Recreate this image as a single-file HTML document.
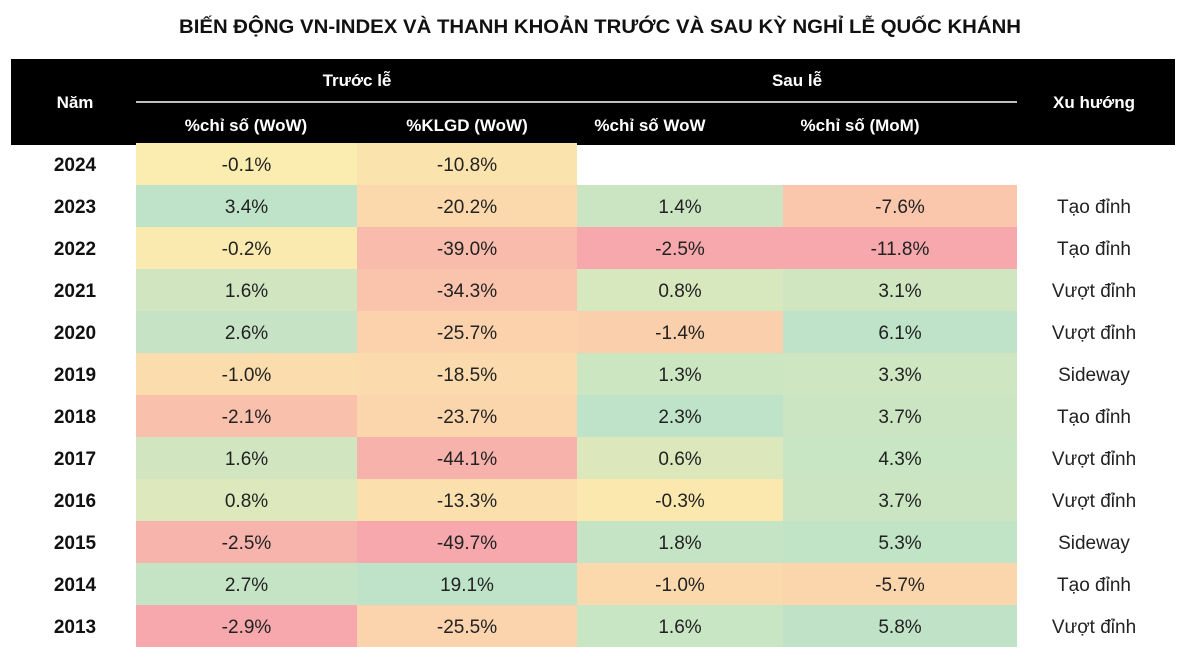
<!DOCTYPE html>
<html><head><meta charset="utf-8">
<style>
html,body{margin:0;padding:0;background:#fff;}
svg{display:block;font-family:"Liberation Sans","DejaVu Sans",sans-serif;}
</style></head>
<body>
<svg id="chart" width="1200" height="661" viewBox="0 0 1200 661">
<text x="600" y="33" text-anchor="middle" font-size="19" font-weight="bold" fill="#111" textLength="842" lengthAdjust="spacingAndGlyphs">BIẾN ĐỘNG VN-INDEX VÀ THANH KHOẢN TRƯỚC VÀ SAU KỲ NGHỈ LỄ QUỐC KHÁNH</text>
<rect x="11" y="59" width="1164" height="86" fill="#000"/>
<text x="75" y="108" text-anchor="middle" font-size="17" font-weight="bold" fill="#fff">Năm</text>
<text x="357" y="86" text-anchor="middle" font-size="17" font-weight="bold" fill="#fff">Trước lễ</text>
<line x1="136" y1="102" x2="577" y2="102" stroke="#fff" stroke-width="1.5"/>
<text x="797" y="86" text-anchor="middle" font-size="17" font-weight="bold" fill="#fff">Sau lễ</text>
<line x1="577" y1="102" x2="1017" y2="102" stroke="#fff" stroke-width="1.5"/>
<text x="1094" y="108" text-anchor="middle" font-size="17" font-weight="bold" fill="#fff">Xu hướng</text>
<text x="246" y="131" text-anchor="middle" font-size="17" font-weight="bold" fill="#fff">%chỉ số (WoW)</text>
<text x="467" y="131" text-anchor="middle" font-size="17" font-weight="bold" fill="#fff">%KLGD (WoW)</text>
<text x="650" y="131" text-anchor="middle" font-size="17" font-weight="bold" fill="#fff">%chỉ số WoW</text>
<text x="860" y="131" text-anchor="middle" font-size="17" font-weight="bold" fill="#fff">%chỉ số (MoM)</text>
<g id="cells"></g>
</svg>
<script>
const years = ["2024","2023","2022","2021","2020","2019","2018","2017","2016","2015","2014","2013"];
const indexWowBefore = [-0.1,3.4,-0.2,1.6,2.6,-1.0,-2.1,1.6,0.8,-2.5,2.7,-2.9];
const volumeWow = [-10.8,-20.2,-39.0,-34.3,-25.7,-18.5,-23.7,-44.1,-13.3,-49.7,19.1,-25.5];
const indexWowAfter = [null,1.4,-2.5,0.8,-1.4,1.3,2.3,0.6,-0.3,1.8,-1.0,1.6];
const indexMom = [null,-7.6,-11.8,3.1,6.1,3.3,3.7,4.3,3.7,5.3,-5.7,5.8];
const trends = ["","Tạo đỉnh","Tạo đỉnh","Vượt đỉnh","Vượt đỉnh","Sideway","Tạo đỉnh","Vượt đỉnh","Vượt đỉnh","Sideway","Tạo đỉnh","Vượt đỉnh"];

const NS="http://www.w3.org/2000/svg";
const g=document.getElementById('cells');
const top0=143, rowH=42;
const cols=[{x:136,w:221,d:indexWowBefore,n:'index-wow-before'},{x:357,w:220,d:volumeWow,n:'volume-wow'},{x:577,w:206,d:indexWowAfter,n:'index-wow-after'},{x:783,w:234,d:indexMom,n:'index-mom'}];
const RED=[246,168,172],ORG=[251,212,172],YEL=[251,238,176],GRN=[190,227,200];
function mix(a,b,t){t=Math.max(0,Math.min(1,t));return 'rgb('+a.map((v,i)=>Math.round(v+(b[i]-v)*t)).join(',')+')';}
function scaleColor(v,arr){
  const vals=arr.filter(x=>x!==null);
  const mn=Math.min(...vals),mx=Math.max(...vals);
  if(v<=0){const t=v/mn; return t>0.5?mix(ORG,RED,(t-0.5)*2):mix(YEL,ORG,t*2);}
  return mix(YEL,GRN,Math.sqrt(v/mx));
}
function yOf(i){return top0+i*rowH;}
years.forEach((yr,i)=>{
  const y=yOf(i);
  const t=document.createElementNS(NS,'text');
  t.setAttribute('x',75);t.setAttribute('y',y+rowH/2+7);t.setAttribute('text-anchor','middle');
  t.setAttribute('font-size','19');t.setAttribute('font-weight','bold');t.setAttribute('fill','#111');
  
  
  t.textContent=yr;g.appendChild(t);
  cols.forEach(c=>{
    const v=c.d[i];
    if(v===null) return;
    const r=document.createElementNS(NS,'rect');
    r.setAttribute('x',c.x);r.setAttribute('y',y);r.setAttribute('width',c.w);r.setAttribute('height',rowH);
    r.setAttribute('fill',scaleColor(v,c.d));
    
    
    g.appendChild(r);
    const tx=document.createElementNS(NS,'text');
    tx.setAttribute('x',c.x+c.w/2);tx.setAttribute('y',y+rowH/2+7);tx.setAttribute('text-anchor','middle');
    tx.setAttribute('font-size','19');tx.setAttribute('fill','#222');
    
    
    tx.textContent=v.toFixed(1)+'%';g.appendChild(tx);
  });
  if(trends[i]){
    const tt=document.createElementNS(NS,'text');
    tt.setAttribute('x',1094);tt.setAttribute('y',y+rowH/2+7);tt.setAttribute('text-anchor','middle');
    tt.setAttribute('font-size','19');tt.setAttribute('fill','#222');
    
    
    tt.textContent=trends[i];g.appendChild(tt);
  }
});
</script>
</body></html>
